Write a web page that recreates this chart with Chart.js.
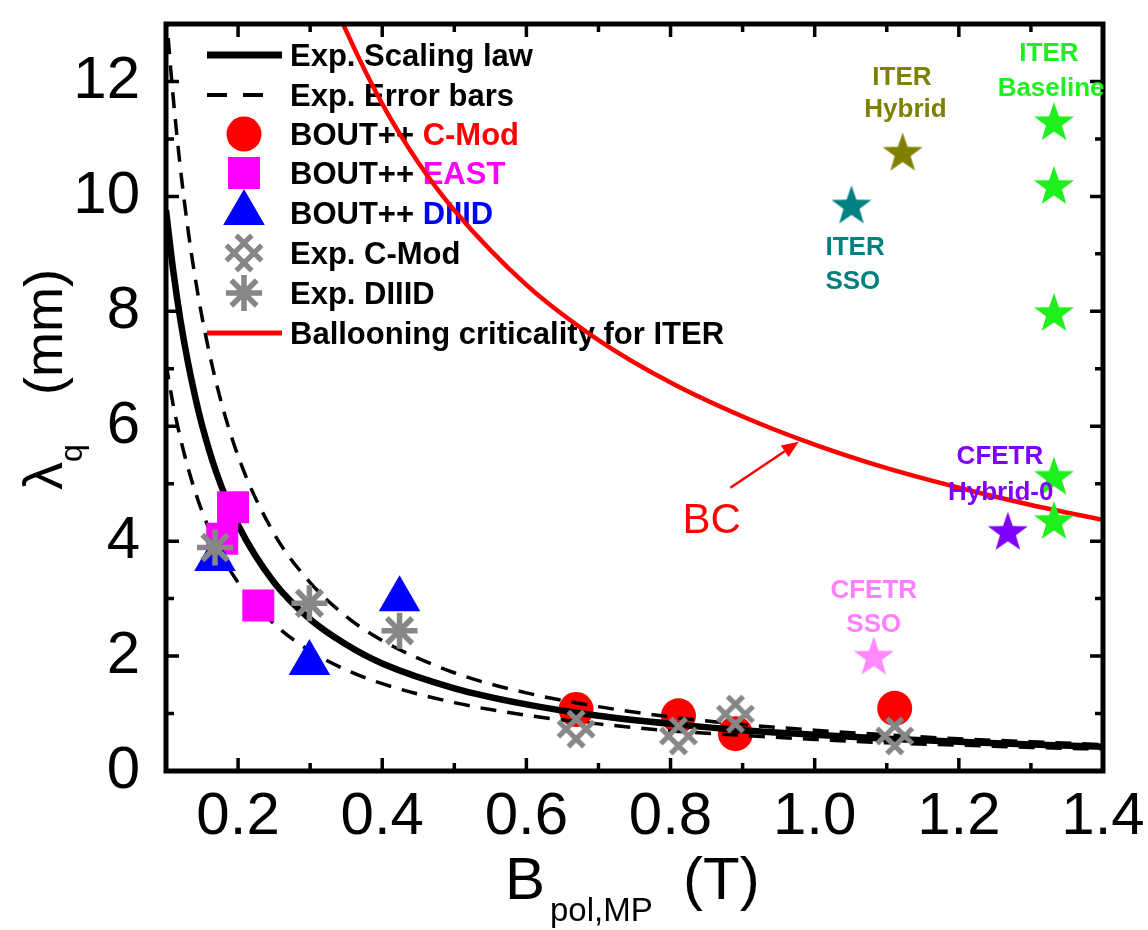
<!DOCTYPE html>
<html><head><meta charset="utf-8">
<script src="https://cdn.jsdelivr.net/npm/chart.js@4"></script>
<style>html,body{margin:0;padding:0;background:#fff}canvas{display:block}</style>
</head><body>
<canvas id="c" width="1148" height="930"></canvas>
<script>
// ---------- data ----------
const X_TICKS=[0.2,0.4,0.6,0.8,1.0,1.2,1.4];
const Y_TICKS=[0,2,4,6,8,10,12];
const X_MINOR=[0.1,0.3,0.5,0.7,0.9,1.1,1.3];
const Y_MINOR=[1,3,5,7,9,11];

const CURVE_B=[0.1,0.11,0.12,0.13,0.14,0.15,0.17,0.2,0.25,0.3,0.35,0.4,0.5,0.6,0.7,0.8,0.9,1.0,1.1,1.2,1.3,1.4];
const SCALING=[9.76,8.71,7.85,7.14,6.54,6.02,5.19,4.28,3.28,2.64,2.20,1.87,1.44,1.16,0.96,0.82,0.71,0.63,0.56,0.51,0.46,0.42];
const ERR_UP=[13.22,11.72,10.49,9.47,8.62,7.90,6.74,5.48,4.13,3.28,2.69,2.27,1.71,1.36,1.12,0.94,0.81,0.71,0.63,0.56,0.51,0.46];
const ERR_LO=[7.09,6.37,5.79,5.30,4.88,4.52,3.93,3.28,2.56,2.09,1.76,1.52,1.19,0.97,0.82,0.70,0.62,0.55,0.49,0.45,0.41,0.38];
const BC_B=[0.34,0.35,0.4,0.45,0.5,0.6,0.7,0.8,0.9,1.0,1.1,1.2,1.3,1.4];
const BC_L=[13.18,12.88,11.61,10.59,9.76,8.46,7.50,6.76,6.17,5.68,5.27,4.93,4.63,4.37];

const BOUT_CMOD_B=[0.669,0.811,0.890,1.111];
const BOUT_CMOD_L=[1.07,0.96,0.65,1.09];
const BOUT_EAST_B=[0.193,0.178,0.228];
const BOUT_EAST_L=[4.59,4.04,2.88];
const BOUT_DIIID_B=[0.168,0.299,0.424];
const BOUT_DIIID_L=[3.69,1.88,2.99];
const EXP_CMOD_B=[0.669,0.811,0.890,1.111];
const EXP_CMOD_L=[0.73,0.61,0.99,0.61];
const EXP_DIIID_B=[0.168,0.299,0.424];
const EXP_DIIID_L=[3.89,2.92,2.44];

const ITER_SSO_B=[1.051], ITER_SSO_L=[9.86];
const ITER_HYB_B=[1.122], ITER_HYB_L=[10.78];
const ITER_BASE_B=[1.332,1.332,1.332,1.332,1.332], ITER_BASE_L=[11.31,10.20,7.99,5.14,4.37];
const CFETR_HYB_B=[1.268], CFETR_HYB_L=[4.18];
const CFETR_SSO_B=[1.082], CFETR_SSO_L=[2.01];

const LEGEND_LABELS=[
  [['Exp. Scaling law','#000']],
  [['Exp. Error bars','#000']],
  [['BOUT++ ','#000'],['C-Mod','#ff0000']],
  [['BOUT++ ','#000'],['EAST','#ff00ff']],
  [['BOUT++ ','#000'],['DIIID','#0000ff']],
  [['Exp. C-Mod','#000']],
  [['Exp. DIIID','#000']],
  [['Ballooning criticality for ITER','#000']]
];
const ANNOTATIONS=[
  {lines:['ITER','Baseline'], color:'#1ef01e', at:[[1.325,12.51],[1.328,11.91]]},
  {lines:['ITER','Hybrid'], color:'#808000', at:[[1.121,12.10],[1.126,11.54]]},
  {lines:['ITER','SSO'], color:'#008080', at:[[1.056,9.15],[1.053,8.55]]},
  {lines:['CFETR','Hybrid-0'], color:'#8000ff', at:[[1.257,5.51],[1.258,4.88]]},
  {lines:['CFETR','SSO'], color:'#ff80ff', at:[[1.082,3.17],[1.082,2.58]]}
];
const BC_LABEL={text:'BC', at:[0.857,4.40]};
const BC_ARROW={from:[0.883,4.93], to:[0.978,5.73]};

// ---------- helpers ----------
const FONT="'Liberation Sans', Arial, sans-serif";
const pts=(xs,ys)=>xs.map((x,i)=>({x:x,y:ys[i]}));
const GRAY='#878787';

function makeStar(color){
  const s=48,c=document.createElement('canvas');c.width=s;c.height=s;
  const g=c.getContext('2d');g.fillStyle=color;g.beginPath();
  const R=21,r=8.4;
  for(let i=0;i<10;i++){const a=-Math.PI/2+i*Math.PI/5;const rr=i%2?r:R;
    g.lineTo(s/2+rr*Math.cos(a),s/2+rr*Math.sin(a)+2);}
  g.closePath();g.fill();return c;
}
function drawHatch(g,x,y){
  const o=7/Math.SQRT2,L=18/Math.SQRT2;
  g.save();g.strokeStyle=GRAY;g.lineWidth=5.2;g.beginPath();
  for(const k of [-1,1]){
    let cx=x+k*o,cy=y-k*o;g.moveTo(cx-L,cy-L);g.lineTo(cx+L,cy+L);
    cx=x+k*o;cy=y+k*o;g.moveTo(cx-L,cy+L);g.lineTo(cx+L,cy-L);
  }
  g.stroke();g.restore();
}
function makeHatch(){
  const s=48,c=document.createElement('canvas');c.width=s;c.height=s;
  drawHatch(c.getContext('2d'),s/2,s/2);return c;
}
function drawAsterisk(g,x,y,r){
  g.save();g.strokeStyle=GRAY;g.lineWidth=5.5;g.beginPath();
  for(let i=0;i<4;i++){const a=i*Math.PI/4;g.moveTo(x-r*Math.cos(a),y-r*Math.sin(a));g.lineTo(x+r*Math.cos(a),y+r*Math.sin(a));}
  g.stroke();g.restore();
}
const HATCH=makeHatch();

// ---------- plugins ----------
const legendPlugin={id:'customLegend',beforeDatasetsDraw(chart){
  const g=chart.ctx;g.save();
  const sx=244,tx=290,rows=[55,95,134,173,213,253,293,333];
  g.lineCap='butt';
  g.strokeStyle='#000';g.lineWidth=7;g.beginPath();g.moveTo(207,rows[0]);g.lineTo(282,rows[0]);g.stroke();
  g.lineWidth=4;g.setLineDash([20,16]);g.beginPath();g.moveTo(207,rows[1]);g.lineTo(263,rows[1]);g.stroke();g.setLineDash([]);
  g.fillStyle='#ff0000';g.beginPath();g.arc(sx,rows[2],17.5,0,Math.PI*2);g.fill();
  g.fillStyle='#ff00ff';g.fillRect(sx-16,rows[3]-16,32,32);
  g.fillStyle='#0000ff';g.beginPath();const tr=24,ty=rows[4];
  g.moveTo(sx,ty-tr);g.lineTo(sx+tr*Math.sin(2*Math.PI/3),ty+tr/2);g.lineTo(sx-tr*Math.sin(2*Math.PI/3),ty+tr/2);g.closePath();g.fill();
  drawHatch(g,sx,rows[5]);
  drawAsterisk(g,sx,rows[6],18);
  g.strokeStyle='#ff0000';g.lineWidth=5;g.beginPath();g.moveTo(207,rows[7]);g.lineTo(282,rows[7]);g.stroke();
  g.font='bold 31px '+FONT;g.textBaseline='alphabetic';g.textAlign='left';
  LEGEND_LABELS.forEach((parts,i)=>{let x=tx;parts.forEach(([t,col])=>{g.fillStyle=col;g.fillText(t,x,rows[i]+11);x+=g.measureText(t).width;});});
  g.restore();
}};

const framePlugin={id:'frame',afterDatasetsDraw(chart){
  const g=chart.ctx,a=chart.chartArea,xs=chart.scales.x,ys=chart.scales.y;
  g.save();g.strokeStyle='#000';g.lineCap='butt';
  g.lineWidth=3.5;g.beginPath();
  const tick=(v,len,horiz)=>{
    if(horiz){const p=xs.getPixelForValue(v);g.moveTo(p,a.bottom);g.lineTo(p,a.bottom-len);g.moveTo(p,a.top);g.lineTo(p,a.top+len);}
    else{const p=ys.getPixelForValue(v);g.moveTo(a.left,p);g.lineTo(a.left+len,p);g.moveTo(a.right,p);g.lineTo(a.right-len,p);}
  };
  X_TICKS.forEach(v=>tick(v,13,true));X_MINOR.forEach(v=>tick(v,8,true));
  Y_TICKS.forEach(v=>tick(v,13,false));Y_MINOR.forEach(v=>tick(v,8,false));
  g.stroke();
  g.lineWidth=5;g.strokeRect(a.left,a.top,a.right-a.left,a.bottom-a.top);
  g.restore();
}};

const annotPlugin={id:'annot',afterDatasetsDraw(chart){
  const g=chart.ctx,xs=chart.scales.x,ys=chart.scales.y;
  const P=(d)=>[xs.getPixelForValue(d[0]),ys.getPixelForValue(d[1])];
  g.save();
  g.font='bold 26px '+FONT;g.textAlign='center';g.textBaseline='alphabetic';
  ANNOTATIONS.forEach(an=>{g.fillStyle=an.color;an.lines.forEach((t,i)=>{const p=P(an.at[i]);g.fillText(t,p[0],p[1]+9.3);});});
  g.fillStyle='#ff0000';g.font="42px 'Liberation Sans Narrow', "+FONT;
  const b=P(BC_LABEL.at);g.fillText(BC_LABEL.text,b[0],b[1]+15);
  const f=P(BC_ARROW.from),t=P(BC_ARROW.to);
  const ang=Math.atan2(t[1]-f[1],t[0]-f[0]),hl=17,hw=7;
  g.strokeStyle='#ff0000';g.lineWidth=2.5;g.beginPath();g.moveTo(f[0],f[1]);
  g.lineTo(t[0]-hl*Math.cos(ang),t[1]-hl*Math.sin(ang));g.stroke();
  g.beginPath();g.moveTo(t[0],t[1]);
  g.lineTo(t[0]-hl*Math.cos(ang)+hw*Math.sin(ang),t[1]-hl*Math.sin(ang)-hw*Math.cos(ang));
  g.lineTo(t[0]-hl*Math.cos(ang)-hw*Math.sin(ang),t[1]-hl*Math.sin(ang)+hw*Math.cos(ang));
  g.closePath();g.fill();
  g.restore();
}};

const titlePlugin={id:'titles',afterDraw(chart){
  const g=chart.ctx;g.save();g.fillStyle='#000';g.textBaseline='alphabetic';g.textAlign='left';
  g.font='60px '+FONT;g.fillText('B',505,899);
  g.font='33px '+FONT;g.fillText('pol,MP',550,921);
  g.font='60px '+FONT;g.fillText('(T)',683,899);
  g.translate(62,490);g.rotate(-Math.PI/2);
  g.font='56px '+FONT;g.fillText('\u03BB',0,0);const wl=g.measureText('\u03BB').width;
  g.font='32px '+FONT;g.fillText('q',wl,20);
  g.font='54px '+FONT;g.fillText('(mm)',95,0);
  g.restore();
}};

// ---------- chart ----------
new Chart(document.getElementById('c'),{
  type:'scatter',
  data:{datasets:[
    {label:'ITER SSO',data:pts(ITER_SSO_B,ITER_SSO_L),pointStyle:makeStar('#008080'),order:1},
    {label:'ITER Hybrid',data:pts(ITER_HYB_B,ITER_HYB_L),pointStyle:makeStar('#808000'),order:1},
    {label:'ITER Baseline',data:pts(ITER_BASE_B,ITER_BASE_L),pointStyle:makeStar('#1ef01e'),order:1},
    {label:'CFETR Hybrid-0',data:pts(CFETR_HYB_B,CFETR_HYB_L),pointStyle:makeStar('#8000ff'),order:1},
    {label:'CFETR SSO',data:pts(CFETR_SSO_B,CFETR_SSO_L),pointStyle:makeStar('#ff88ff'),order:1},
    {label:'Exp. DIIID',data:pts(EXP_DIIID_B,EXP_DIIID_L),pointStyle:'star',pointRadius:18,pointBorderColor:GRAY,pointBackgroundColor:GRAY,pointBorderWidth:5.5,order:2},
    {label:'Exp. C-Mod',data:pts(EXP_CMOD_B,EXP_CMOD_L),pointStyle:HATCH,order:3},
    {label:'BOUT++ DIIID',data:pts(BOUT_DIIID_B,BOUT_DIIID_L),pointStyle:'triangle',pointRadius:24,pointBackgroundColor:'#0000ff',pointBorderWidth:0,order:4},
    {label:'BOUT++ EAST',data:pts(BOUT_EAST_B,BOUT_EAST_L),pointStyle:'rect',pointRadius:22.6,pointBackgroundColor:'#ff00ff',pointBorderWidth:0,order:5},
    {label:'Ballooning criticality for ITER',data:pts(BC_B,BC_L),showLine:true,pointRadius:0,borderColor:'#ff0000',borderWidth:4.5,cubicInterpolationMode:'monotone',order:6},
    {label:'Exp. Scaling law',data:pts(CURVE_B,SCALING),showLine:true,pointRadius:0,borderColor:'#000',borderWidth:6.5,cubicInterpolationMode:'monotone',order:7},
    {label:'Exp. Error bars (upper)',data:pts(CURVE_B,ERR_UP),showLine:true,pointRadius:0,borderColor:'#000',borderWidth:3.5,borderDash:[16,11],cubicInterpolationMode:'monotone',order:8},
    {label:'Exp. Error bars (lower)',data:pts(CURVE_B,ERR_LO),showLine:true,pointRadius:0,borderColor:'#000',borderWidth:3.5,borderDash:[16,11],cubicInterpolationMode:'monotone',order:8},
    {label:'BOUT++ C-Mod',data:pts(BOUT_CMOD_B,BOUT_CMOD_L),pointStyle:'circle',pointRadius:17.5,pointBackgroundColor:'#ff0000',pointBorderWidth:0,order:9}
  ]},
  options:{
    responsive:false,animation:false,devicePixelRatio:1,
    layout:{padding:{top:9,right:45,left:0,bottom:0}},
    plugins:{legend:{display:false},tooltip:{enabled:false}},
    scales:{
      x:{type:'linear',min:0.1,max:1.4,grid:{display:false,drawTicks:false},border:{display:false},
        afterBuildTicks:s=>{s.ticks=X_TICKS.map(v=>({value:v}));},
        afterFit:s=>{s.height=159;s.paddingLeft=0;s.paddingRight=0;},
        ticks:{font:{family:FONT,size:60},color:'#000',padding:10,maxRotation:0,autoSkip:false,callback:v=>Number(v).toFixed(1)}},
      y:{type:'linear',min:0,max:13,grid:{display:false,drawTicks:false},border:{display:false},
        afterBuildTicks:s=>{s.ticks=Y_TICKS.map(v=>({value:v}));},
        afterFit:s=>{s.width=166;s.paddingTop=0;s.paddingBottom=0;},
        ticks:{font:{family:FONT,size:60},color:'#000',padding:26,autoSkip:false,callback:v=>String(v)}}
    }
  },
  plugins:[legendPlugin,framePlugin,annotPlugin,titlePlugin]
});
</script>
</body></html>
